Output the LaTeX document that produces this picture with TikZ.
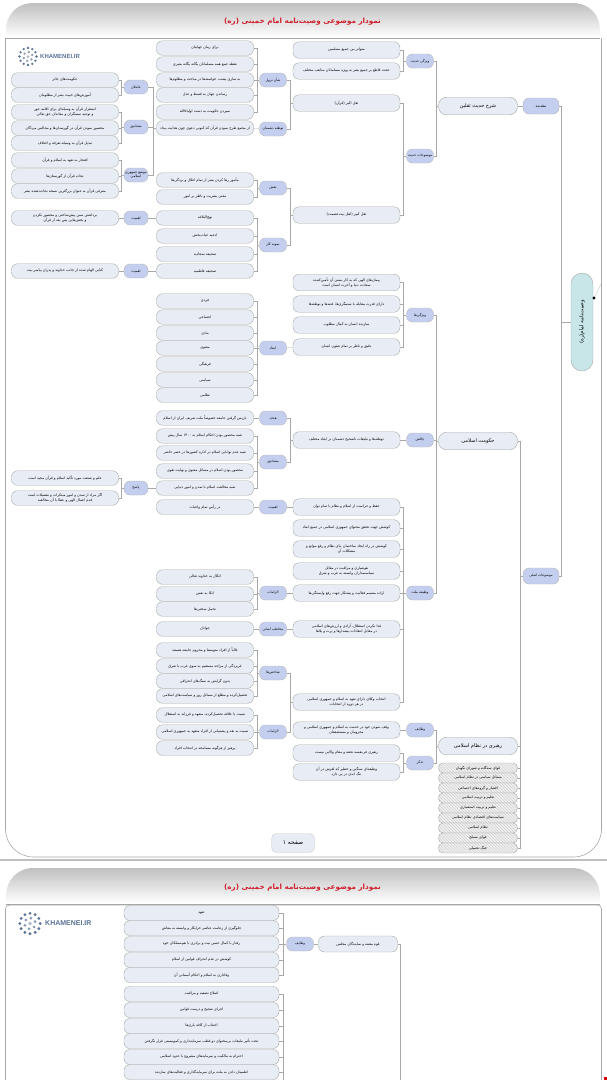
\documentclass[tikz,border=0pt]{standalone}
\usepackage{fontspec}
\usetikzlibrary{positioning,patterns}
\TeXXeTstate=1
\newfontfamily\arabicfont[Script=Arabic]{DejaVu Sans}
\newfontfamily\logofont{Liberation Sans}
\newcommand{\fa}[1]{\beginR #1\endR}
\definecolor{leaffill}{HTML}{E8ECF4}
\definecolor{tagfill}{HTML}{C4CFF0}
\definecolor{rootfill}{HTML}{C8E6E8}
\definecolor{framegray}{HTML}{A8A8A8}
\definecolor{titlered}{HTML}{D0202E}
\definecolor{logoblue}{HTML}{5A7396}
\tikzset{
  leaf/.style={draw=framegray,fill=leaffill,rounded corners=6pt,inner sep=0pt,align=center,
    minimum height=14.5pt,font=\arabicfont\fontsize{3.6}{4.6}\selectfont},
  leafa/.style={leaf,minimum width=107pt},
  leafc/.style={leaf,minimum width=97pt},
  leafe/.style={leaf,minimum width=107pt,minimum height=16.5pt},
  leafp/.style={leaf,minimum width=155pt,minimum height=15pt},
  sub/.style={leaf,minimum width=79pt,minimum height=17.5pt,rounded corners=8pt,font=\arabicfont\fontsize{5}{6}\selectfont},
  striped/.style={leaf,minimum width=79pt,minimum height=10pt,rounded corners=4.5pt,
    preaction={fill=gray!12},pattern=north west lines,pattern color=gray!35,font=\arabicfont\fontsize{3.6}{4}\selectfont},
  tag/.style={draw=framegray!80,fill=tagfill,rounded corners=6pt,inner sep=0pt,align=center,
    minimum width=27pt,minimum height=14pt,font=\arabicfont\fontsize{3.5}{4.2}\selectfont},
  tagb/.style={tag,minimum width=24pt},
  link/.style={framegray,line width=0.45pt},
  headbar/.style={top color=gray!50,bottom color=white,draw=none},
  title/.style={font=\arabicfont\bfseries\fontsize{7.2}{9}\selectfont,text=titlered,inner sep=0pt},
  logotext/.style={font=\logofont\bfseries,text=logoblue,anchor=west,inner sep=0pt},
  logomark/.pic={
    \foreach \t in {0,30,...,330} \fill[logoblue] (\t:8.5pt) circle (1.3pt);
    \foreach \t in {20,80,...,340} \fill[logoblue!70] (\t:4.5pt) circle (1.3pt);
    \fill[logoblue!50] (0,0) circle (1.5pt);
  }
}
\begin{document}
\begin{tikzpicture}[x=1pt,y=-1pt]
  \useasboundingbox (0,0) rectangle (607,1080);
  % page one frame
  \path[headbar] (6,37) -- (6,31) .. controls (6,14) and (17,3) .. (34,3) -- (572,3) .. controls (589,3) and (600,14) .. (600,31) -- (600,37) -- cycle;
  \draw[gray!70,line width=0.8pt] (6,38) -- (600,38);
  \draw[framegray,rounded corners=28pt,line width=0.6pt] (5.5,38) -- (5.5,857) -- (601.5,857) -- (601.5,38);
  \fill[gray!50] (0,858.5) rectangle (607,860.5);
  \node[title] (t1) at (302.5,22) {\fa{نمودار موضوعی وصیت‌نامه امام خمینی (ره)}};
  \pic at (28,56.5) {logomark};
  \node[logotext,font=\logofont\bfseries\fontsize{6}{7}\selectfont] (l1) at (40,56.5) {KHAMENEI.IR};
  \node[fill=leaffill,draw=framegray!60,rounded corners=5pt,minimum width=43pt,minimum height=19pt,inner sep=0pt,
    font=\arabicfont\fontsize{6}{7}\selectfont] (p1) at (293,843) {\fa{صفحه ۱}};

  % root and main branches
  \node[draw=framegray,fill=rootfill,rounded corners=11pt,minimum width=98pt,minimum height=22pt,inner sep=0pt,rotate=90,
    font=\arabicfont\fontsize{5.4}{6}\selectfont] (r) at (582,322) {\fa{وصیت‌نامه امام(ره)}};
  \node[tag,minimum width=36pt,minimum height=16pt,font=\arabicfont\fontsize{4}{5}\selectfont] (h1) at (541,106) {\fa{مقدمه}};
  \node[tag,minimum width=36pt,minimum height=16pt,font=\arabicfont\fontsize{3.4}{4}\selectfont] (h2) at (541,576) {\fa{موضوعات اصلی}};

  \node[sub] (g1) at (478,106) {\fa{شرح حدیث ثقلین}};
  \node[sub] (g2) at (478,441) {\fa{حکومت اسلامی}};
  \node[sub] (g3) at (478,746) {\fa{رهبری در نظام اسلامی}};
  \node[striped] (s1) at (478,768) {\fa{قوای سه‌گانه و شورای نگهبان}};
  \node[striped] (s2) at (478,778) {\fa{مسائل سیاسی در نظام اسلامی}};
  \node[striped] (s3) at (478,788) {\fa{اقشار و گروه‌های اجتماعی}};
  \node[striped] (s4) at (478,798) {\fa{تعلیم و تربیت اسلامی}};
  \node[striped] (s5) at (478,808) {\fa{تعلیم و تربیت استعماری}};
  \node[striped] (s6) at (478,818) {\fa{سیاست‌های اقتصادی نظام اسلامی}};
  \node[striped] (s7) at (478,828) {\fa{نظام اسلامی}};
  \node[striped] (s8) at (478,838) {\fa{قوای مسلح}};
  \node[striped] (s9) at (478,848) {\fa{جنگ تحمیلی}};

  \node[tag] (f1) at (420,61) {\fa{ویژگی حدیث}};
  \node[tag] (f2) at (420,156) {\fa{موضوعات حدیث}};
  \node[tag] (f3) at (420,315) {\fa{ویژگی‌ها}};
  \node[tag] (f4) at (420,440) {\fa{چالش}};
  \node[tag] (f5) at (420,593) {\fa{وظیفه ملت}};
  \node[tag] (f6) at (420,730) {\fa{وظایف}};
  \node[tag] (f7) at (420,763) {\fa{تذکر}};

  \node[leafe] (e1) at (346.5,50) {\fa{متواتر بین جمیع مسلمین}};
  \node[leafe] (e2) at (346.5,71) {\fa{حجت قاطع بر جمیع بشر به ویژه مسلمانان مذاهب مختلف}};
  \node[leafe] (e3) at (346.5,103) {\fa{ثقل اکبر (قرآن)}};
  \node[leafe] (e4) at (346.5,215) {\fa{ثقل کبیر (اهل بیت‌عصمت)}};
  \node[leafe] (e5) at (346.5,282.5) {\fa{پیمان‌های الهی که به کار بستن آن تأمین‌کننده}\\\fa{سعادت دنیا و آخرت انسان است}};
  \node[leafe] (e6) at (346.5,304) {\fa{دارای قدرت مقابله با ستمگری‌ها، فتنه‌ها و توطئه‌ها}};
  \node[leafe] (e7) at (346.5,325) {\fa{سازنده انسان به کمال مطلوب}};
  \node[leafe] (e8) at (346.5,347) {\fa{دقیق و ناظر بر تمام شئون انسان}};
  \node[leafe] (e9) at (346.5,440) {\fa{توطئه‌ها و تبلیغات ناصحیح دشمنان در ابعاد مختلف}};
  \node[leafe] (e10) at (346.5,507) {\fa{حفظ و حراست از اسلام و نظام با تمام توان}};
  \node[leafe] (e11) at (346.5,528) {\fa{کوشش جهت تحقق محتوای جمهوری اسلامی در جمیع ابعاد}};
  \node[leafe] (e12) at (346.5,549) {\fa{کوشش در راه ایجاد ساختمان بنای نظام و رفع موانع و}\\\fa{مشکلات آن}};
  \node[leafe] (e13) at (346.5,571) {\fa{هوشیاری و مراقبت در مقابل}\\\fa{سیاستمداران وابسته به غرب و شرق}};
  \node[leafe] (e14) at (346.5,593) {\fa{اراده مصمم فعالیت و پشتکار جهت رفع وابستگی‌ها}};
  \node[leafe] (e15) at (346.5,629) {\fa{فدا نکردن استقلال، آزادی و ارزش‌های اسلامی}\\\fa{در مقابل انتقادات نیشدارها و پرت و پلاها}};
  \node[leafe] (e16) at (346.5,702) {\fa{انتخاب وکلای دارای تعهد به اسلام و جمهوری اسلامی}\\\fa{در هر دوره از انتخابات}};
  \node[leafe] (e17) at (346.5,730) {\fa{وقف نمودن خود در خدمت به اسلام و جمهوری اسلامی و}\\\fa{محرومان و مستضعفان}};
  \node[leafe] (e18) at (346.5,753) {\fa{رهبری فی‌نفسه تحفه و مقام والایی نیست}};
  \node[leafe] (e19) at (346.5,772) {\fa{وظیفه‌ای سنگین و خطیر که لغزش در آن}\\\fa{ننگ ابدی در پی دارد}};

  \node[tag] (d1) at (273,80) {\fa{شأن نزول}};
  \node[tag] (d2) at (273,129) {\fa{توطئه دشمنان}};
  \node[tag] (d3) at (273,188) {\fa{نقش}};
  \node[tag] (d4) at (273,245) {\fa{نمونه کار}};
  \node[tag] (d5) at (273,348) {\fa{ابعاد}};
  \node[tag] (d6) at (273,418) {\fa{هدف}};
  \node[tag] (d7) at (273,462) {\fa{مصادیق}};
  \node[tag] (d8) at (273,507) {\fa{اهمیت}};
  \node[tag] (d9) at (273,593) {\fa{الزامات}};
  \node[tag] (d10) at (273,629) {\fa{مخاطب اصلی}};
  \node[tag] (d11) at (273,673) {\fa{شاخص‌ها}};
  \node[tag] (d12) at (273,732) {\fa{الزامات}};

  \node[leafc] (c1) at (205,48) {\fa{برای زمان جهانیان}};
  \node[leafc] (c2) at (205,64) {\fa{نقطه جمع همه مسلمانان یگانه یگانه بشری}};
  \node[leafc] (c3) at (205,80) {\fa{به سازی پشت، خواسته‌ها در مباحث و مظلوم‌ها}};
  \node[leafc] (c4) at (205,95) {\fa{رساندن جهان به قسط و عدل}};
  \node[leafc] (c5) at (205,112) {\fa{سپردن حکومت به دست اولیاءالله}};
  \node[leafc] (c6) at (205,128) {\fa{از مجمع طرح نمودن قرآن که کنونی دعوی چون هدایت بیداد}};
  \node[leafc] (c7) at (205,180) {\fa{مأمور رها کردن بشر از تمام اغلال و بردگی‌ها}};
  \node[leafc] (c8) at (205,197) {\fa{معنی بشریت و ناظر بر امور}};
  \node[leafc] (c9) at (205,218) {\fa{نهج‌البلاغه}};
  \node[leafc] (c10) at (205,236) {\fa{ادعیه حیات‌بخش}};
  \node[leafc] (c11) at (205,254) {\fa{صحیفه سجادیه}};
  \node[leafc] (c12) at (205,271) {\fa{صحیفه فاطمیه}};
  \node[leafc] (c13) at (205,301) {\fa{فردی}};
  \node[leafc] (c14) at (205,317) {\fa{اجتماعی}};
  \node[leafc] (c15) at (205,333) {\fa{مادی}};
  \node[leafc] (c16) at (205,348) {\fa{معنوی}};
  \node[leafc] (c17) at (205,364) {\fa{فرهنگی}};
  \node[leafc] (c18) at (205,380) {\fa{سیاسی}};
  \node[leafc] (c19) at (205,395) {\fa{نظامی}};
  \node[leafc] (c20) at (205,418) {\fa{بازپس گرفتن جامعه خصوصاً ملت شریف ایران از اسلام}};
  \node[leafc] (c21) at (205,436) {\fa{شبه محصور بودن احکام اسلام به ۱۴۰۰ سال پیش}};
  \node[leafc] (c22) at (205,453) {\fa{شبه عدم توانایی اسلام در اداره کشورها در عصر حاضر}};
  \node[leafc] (c23) at (205,471) {\fa{محصور بودن اسلام در مسائل معنوی و نهایت تقوی}};
  \node[leafc] (c24) at (205,488) {\fa{شبه مخالفت اسلام با تمدن و امور دنیایی}};
  \node[leafc] (c25) at (205,507) {\fa{در رأس تمام واجبات}};
  \node[leafc] (c26) at (205,577) {\fa{اتکال به خداوند تعالی}};
  \node[leafc] (c27) at (205,594) {\fa{اتکا به نفس}};
  \node[leafc] (c28) at (205,609) {\fa{تحمل سختی‌ها}};
  \node[leafc] (c29) at (205,629) {\fa{جوانان}};
  \node[leafc] (c30) at (205,650) {\fa{غالباً از افراد متوسط و محروم جامعه هستند}};
  \node[leafc] (c31) at (205,666) {\fa{غربزدگی از مزاجه مستقیم به سوی غرب یا شرق}};
  \node[leafc] (c32) at (205,681) {\fa{بدون گرایش به سنگ‌های انحرافی}};
  \node[leafc] (c33) at (205,696) {\fa{تحصیل‌کرده و مطلع از مسائل روز و سیاست‌های اسلامی}};
  \node[leafc] (c34) at (205,715) {\fa{نسبت با علاقه تحصیل‌کرده، متعهد و فرزانه به استقلال}};
  \node[leafc] (c35) at (205,732) {\fa{نسبت به نقد و پشتیبانی از افراد متعهد به جمهوری اسلامی}};
  \node[leafc] (c36) at (205,748) {\fa{پرهیز از هرگونه مسامحه در انتخاب افراد}};

  \node[tagb] (b1) at (136,87) {\fa{عاملان}};
  \node[tagb] (b2) at (136,127) {\fa{مصادیق}};
  \node[tagb] (b3) at (136,175) {\fa{موضع جمهوری}\\\fa{اسلامی}};
  \node[tagb] (b4) at (136,218) {\fa{اهمیت}};
  \node[tagb] (b5) at (136,271) {\fa{اهمیت}};
  \node[tagb] (b6) at (136,488) {\fa{پاسخ}};

  \node[leafa] (a1) at (65,80) {\fa{حکومت‌های جائر}};
  \node[leafa] (a2) at (65,95) {\fa{آموزش‌های خبیث بشر از مظلومان}};
  \node[leafa] (a3) at (65,112) {\fa{استقرار قرآن به وسیله‌ای برای اقامه جور}\\\fa{و توجیه ستمگران و معاندان حق تعالی}};
  \node[leafa] (a4) at (65,128) {\fa{محصور نمودن قرآن در گورستان‌ها و مجالس مردگان}};
  \node[leafa] (a5) at (65,143) {\fa{تبدیل قرآن به وسیله تفرقه و اختلاف}};
  \node[leafa] (a6) at (65,160) {\fa{افتخار به تعهد به اسلام و قرآن}};
  \node[leafa] (a7) at (65,176) {\fa{نجات قرآن از گورستان‌ها}};
  \node[leafa] (a8) at (65,191) {\fa{معرفی قرآن به عنوان بزرگترین نسخه نجات‌دهنده بشر}};
  \node[leafa] (a9) at (65,218) {\fa{برداشتن سنن پیش‌ساختی و محصور نکردن}\\\fa{و بخش‌هایی پس بعد از قرآن}};
  \node[leafa] (a10) at (65,271) {\fa{کتابی الهام شده از جانب خداوند و پدران پیامبر بیت}};
  \node[leafa] (a11) at (65,478) {\fa{علم و صنعت مورد تأکید اسلام و قرآن مجید است}};
  \node[leafa] (a12) at (65,498) {\fa{اگر مراد از تمدن و امور مبتکرات و تفصیلات است}\\\fa{قدم اعمال الهی و عطا با آن مخالفند}};

  % trunks between the columns
  \coordinate (k1) at (121,87);
  \coordinate (k2) at (121,127);
  \coordinate (k3) at (121,175);
  \coordinate (k4) at (121,488);
  \coordinate (k5) at (153,128);
  \coordinate (k6) at (257,80);
  \coordinate (k7) at (257,188);
  \coordinate (k8) at (257,245);
  \coordinate (k9) at (257,348);
  \coordinate (k10) at (257,462);
  \coordinate (k11) at (257,593);
  \coordinate (k12) at (257,673);
  \coordinate (k13) at (257,732);
  \coordinate (k14) at (290,103);
  \coordinate (k15) at (290,215);
  \coordinate (k16) at (290,440);
  \coordinate (k17) at (290,702);
  \coordinate (k18) at (403,61);
  \coordinate (k19) at (403,156);
  \coordinate (k20) at (403,315);
  \coordinate (k21) at (403,593);
  \coordinate (k22) at (403,763);
  \coordinate (k23) at (436,106);
  \coordinate (k24) at (436,441);
  \coordinate (k25) at (436,746);
  \coordinate (k26) at (520,576);
  \coordinate (k27) at (561,322);

  \draw[link] (a1.east) -| (k1) (a2.east) -| (k1) (k1) -- (b1.west);
  \draw[link] (a3.east) -| (k2) (a4.east) -| (k2) (a5.east) -| (k2) (k2) -- (b2.west);
  \draw[link] (a6.east) -| (k3) (a7.east) -| (k3) (a8.east) -| (k3) (k3) -- (b3.west);
  \draw[link] (a9) -- (b4);
  \draw[link] (a10) -- (b5);
  \draw[link] (a11.east) -| (k4) (a12.east) -| (k4) (k4) -- (b6.west);
  \draw[link] (b1.east) -| (k5) (b2.east) -| (k5) (b3.east) -| (k5) (k5) -- (c6.west);
  \draw[link] (b4) -- (c9);
  \draw[link] (b5) -- (c12);
  \draw[link] (b6) -- (c24);
  \draw[link] (c1.east) -| (k6) (c2.east) -| (k6) (c3.east) -| (k6) (c4.east) -| (k6) (c5.east) -| (k6) (k6) -- (d1.west);
  \draw[link] (c6) -- (d2);
  \draw[link] (c7.east) -| (k7) (c8.east) -| (k7) (k7) -- (d3.west);
  \draw[link] (c9.east) -| (k8) (c10.east) -| (k8) (c11.east) -| (k8) (c12.east) -| (k8) (k8) -- (d4.west);
  \draw[link] (c13.east) -| (k9) (c14.east) -| (k9) (c15.east) -| (k9) (c16.east) -| (k9) (c17.east) -| (k9) (c18.east) -| (k9) (c19.east) -| (k9) (k9) -- (d5.west);
  \draw[link] (c20) -- (d6);
  \draw[link] (c21.east) -| (k10) (c22.east) -| (k10) (c23.east) -| (k10) (c24.east) -| (k10) (k10) -- (d7.west);
  \draw[link] (c25) -- (d8);
  \draw[link] (c26.east) -| (k11) (c27.east) -| (k11) (c28.east) -| (k11) (k11) -- (d9.west);
  \draw[link] (c29) -- (d10);
  \draw[link] (c30.east) -| (k12) (c31.east) -| (k12) (c32.east) -| (k12) (c33.east) -| (k12) (k12) -- (d11.west);
  \draw[link] (c34.east) -| (k13) (c35.east) -| (k13) (c36.east) -| (k13) (k13) -- (d12.west);
  \draw[link] (d1.east) -| (k14) (d2.east) -| (k14) (k14) -- (e3.west);
  \draw[link] (d3.east) -| (k15) (d4.east) -| (k15) (k15) -- (e4.west);
  \draw[link] (d5) -- (e8);
  \draw[link] (d6.east) -| (k16) (d7.east) -| (k16) (k16) -- (e9.west);
  \draw[link] (d8) -- (e10);
  \draw[link] (d9) -- (e14);
  \draw[link] (d10) -- (e15);
  \draw[link] (d11.east) -| (k17) (d12.east) -| (k17) (k17) -- (e16.west);
  \draw[link] (e1.east) -| (k18) (e2.east) -| (k18) (k18) -- (f1.west);
  \draw[link] (e3.east) -| (k19) (e4.east) -| (k19) (k19) -- (f2.west);
  \draw[link] (e5.east) -| (k20) (e6.east) -| (k20) (e7.east) -| (k20) (e8.east) -| (k20) (k20) -- (f3.west);
  \draw[link] (e9) -- (f4);
  \draw[link] (e10.east) -| (k21) (e11.east) -| (k21) (e12.east) -| (k21) (e13.east) -| (k21) (e14.east) -| (k21) (e15.east) -| (k21) (e16.east) -| (k21) (k21) -- (f5.west);
  \draw[link] (e17) -- (f6);
  \draw[link] (e18.east) -| (k22) (e19.east) -| (k22) (k22) -- (f7.west);
  \draw[link] (f1.east) -| (k23) (f2.east) -| (k23) (k23) -- (g1.west);
  \draw[link] (f3.east) -| (k24) (f4.east) -| (k24) (f5.east) -| (k24) (k24) -- (g2.west);
  \draw[link] (f6.east) -| (k25) (f7.east) -| (k25) (k25) -- (g3.west);
  \draw[link] (g1) -- (h1);
  \draw[link] (g2.east) -| (k26) (g3.east) -| (k26) (s1.east) -| (k26) (s2.east) -| (k26) (s3.east) -| (k26) (s4.east) -| (k26) (s5.east) -| (k26) (s6.east) -| (k26) (s7.east) -| (k26) (s8.east) -| (k26) (s9.east) -| (k26) (k26) -- (h2.west);
  \draw[link] (h1.east) -| (k27) (h2.east) -| (k27) (k27) -- (r.north);
  \coordinate (m1) at (601,284);
  \draw[gray!50,line width=0.4pt] (m1) -- (594,298);
  \fill[black] (594,298) circle (1.7pt);

  % page two frame
  \path[headbar] (6,903) -- (6,897) .. controls (6,880) and (17,868) .. (34,868) -- (572,868) .. controls (589,868) and (600,880) .. (600,897) -- (600,903) -- cycle;
  \draw[gray!70,line width=0.8pt] (6,904) -- (600,904);
  \draw[framegray,rounded corners=4pt,line width=0.6pt] (5.5,1081) -- (5.5,905) -- (601.5,905) -- (601.5,1081);
  \node[title] (t2) at (302.5,888) {\fa{نمودار موضوعی وصیت‌نامه امام خمینی (ره)}};
  \pic at (30,923.5) [scale=1.2] {logomark};
  \node[logotext,font=\logofont\bfseries\fontsize{7}{8}\selectfont] (l2) at (45,923.5) {KHAMENEI.IR};

  \node[leaf,minimum width=79pt,minimum height=16pt] (x1) at (358,944) {\fa{قوه مقننه و نمایندگان مجلس}};
  \node[tag] (x2) at (300,944) {\fa{وظایف}};
  \node[leafp] (y1) at (201.5,913) {\fa{تعهد}};
  \node[leafp] (y2) at (201.5,928) {\fa{جلوگیری از زعامت عناصر خرابکار و وابسته به معاش}};
  \node[leafp] (y3) at (201.5,944) {\fa{رفتار با کمال حسن نیت و برادری با هم‌مسلکان خود}};
  \node[leafp] (y4) at (201.5,960) {\fa{کوشش در عدم انحراف قوانین از اسلام}};
  \node[leafp] (y5) at (201.5,975) {\fa{وفاداری به اسلام و احکام آسمانی آن}};
  \node[leafp] (y6) at (201.5,994) {\fa{اصلاح تصفیه و مراقبت}};
  \node[leafp] (y7) at (201.5,1010) {\fa{اجرای صحیح و درست قوانین}};
  \node[leafp] (y8) at (201.5,1026) {\fa{اجتناب از کافه بازی‌ها}};
  \node[leafp] (y9) at (201.5,1041) {\fa{تحت تأثیر تبلیغات بی‌محتوای دو قطب سرمایه‌داری و کمونیستی قرار نگرفتن}};
  \node[leafp] (y10) at (201.5,1057) {\fa{احترام به مالکیت و سرمایه‌های مشروع با حدود اسلامی}};
  \node[leafp] (y11) at (201.5,1072) {\fa{اطمینان دادن به ملت برای سرمایه‌گذاری و فعالیت‌های سازنده}};
  \coordinate (k28) at (283,944);
  \coordinate (k29) at (283,1081);
  \coordinate (k30) at (400,1081);
  \draw[link] (y1.east) -| (k28) (y2.east) -| (k28) (y3.east) -| (k28) (y4.east) -| (k28) (y5.east) -| (k28) (k28) -- (x2.west);
  \draw[link] (y6.east) -| (k29) (y7.east) -| (k29) (y8.east) -| (k29) (y9.east) -| (k29) (y10.east) -| (k29) (y11.east) -| (k29);
  \draw[link] (x2) -- (x1);
  \draw[link] (x1.east) -| (k30);
  \fill[red!85!black] (604,1076.5) rectangle (607,1080);
\end{tikzpicture}
\end{document}
